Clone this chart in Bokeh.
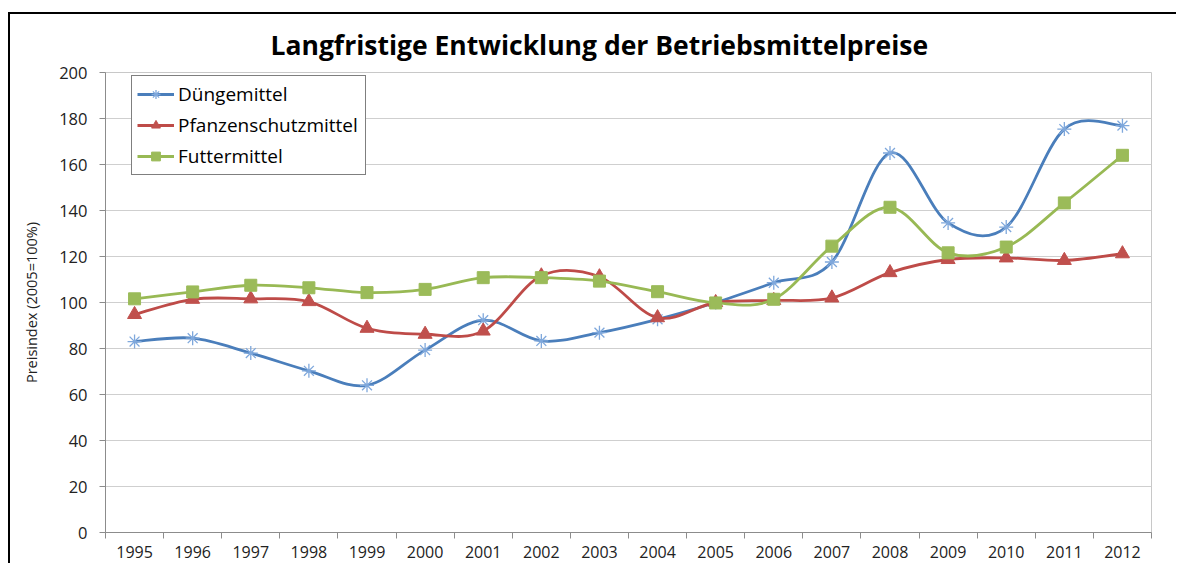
from bokeh.plotting import figure
from bokeh.layouts import column
from bokeh.models import (FixedTicker, Legend, LegendItem, ColumnDataSource)
from bokeh.embed import file_html
from bokeh.resources import INLINE

years = list(range(1995, 2013))
duenge = [83, 84.5, 78, 70.3, 64, 79.3, 92.3, 83.3, 86.9, 92.7, 100, 108.6, 117.6, 165, 134.6, 132.8, 175.4, 176.9]
pflanz = [94.8, 101.4, 101.6, 100.4, 88.8, 86.2, 87.6, 111.6, 111.2, 93.4, 100, 100.9, 102, 113, 118.7, 119.4, 118.3, 121.2]
futter = [101.6, 104.6, 107.5, 106.4, 104.3, 105.7, 110.8, 110.8, 109.3, 104.7, 99.8, 101.4, 124.5, 141.4, 121.6, 124.1, 143.3, 164]
series_names = ["Düngemittel", "Pfanzenschutzmittel", "Futtermittel"]
y_ticks = list(range(0, 201, 20))

FONT = "Open Sans"

# canvas placed at (10, 14) inside a wrapper with a 2px top/left black border
p = figure(width=1166, height=549, output_backend="svg", toolbar_location=None,
           x_range=(1994.5, 2012.5), y_range=(0, 200),
           min_border_left=95, min_border_right=25, min_border_top=57, min_border_bottom=31)

p.title.text = "Langfristige Entwicklung der Betriebsmittelpreise"
p.title.align = "left"
p.title.offset = 165
p.title.text_font = FONT
p.title.text_font_size = "26.5px"
p.title.text_font_style = "bold"
p.title.text_color = "#000000"
p.title.standoff = 20

p.outline_line_color = "#c8c8c8"
p.xgrid.grid_line_color = None
p.ygrid.grid_line_color = "#cfcfcf"
p.ygrid.grid_line_width = 1

xa = p.xaxis[0]
xa.ticker = FixedTicker(ticks=years, minor_ticks=[y - 0.5 for y in years] + [years[-1] + 0.5])
xa.major_tick_line_color = None
xa.minor_tick_line_color = "#8c8c8c"
xa.minor_tick_out = 6
xa.minor_tick_in = 0
xa.axis_line_color = "#8c8c8c"
xa.major_label_text_font = FONT
xa.major_label_text_font_size = "16px"
xa.major_label_text_color = "#222222"
xa.major_label_standoff = 7

ya = p.yaxis[0]
ya.ticker = FixedTicker(ticks=y_ticks)
ya.major_tick_line_color = "#8c8c8c"
ya.major_tick_out = 6
ya.major_tick_in = 0
ya.minor_tick_line_color = None
ya.axis_line_color = "#8c8c8c"
ya.major_label_text_font = FONT
ya.major_label_text_font_size = "16.5px"
ya.major_label_text_color = "#222222"
ya.major_label_standoff = 12
ya.axis_label = "Preisindex (2005=100%)"
ya.axis_label_text_font = FONT
ya.axis_label_text_font_size = "14.5px"
ya.axis_label_text_font_style = "normal"
ya.axis_label_text_color = "#222222"
ya.axis_label_standoff = 15


def bezier_source(xs, ys):
    n = len(xs)
    d = dict(x0=[], y0=[], x1=[], y1=[], cx0=[], cy0=[], cx1=[], cy1=[])
    for i in range(n - 1):
        im1 = max(i - 1, 0)
        ip2 = min(i + 2, n - 1)
        d["x0"].append(xs[i]); d["y0"].append(ys[i])
        d["x1"].append(xs[i + 1]); d["y1"].append(ys[i + 1])
        d["cx0"].append(xs[i] + (xs[i + 1] - xs[im1]) / 6)
        d["cy0"].append(ys[i] + (ys[i + 1] - ys[im1]) / 6)
        d["cx1"].append(xs[i + 1] - (xs[ip2] - xs[i]) / 6)
        d["cy1"].append(ys[i + 1] - (ys[ip2] - ys[i]) / 6)
    return ColumnDataSource(d)


styles = [
    (duenge, "#4a7ebb", "#7fa8dc", "asterisk", 14),
    (pflanz, "#be4b48", "#c0504d", "triangle", 14),
    (futter, "#98b954", "#9bbb59", "square", 12),
]

items = []
for name, (vals, lc, mc, marker, size) in zip(series_names, styles):
    p.bezier(x0="x0", y0="y0", x1="x1", y1="y1", cx0="cx0", cy0="cy0", cx1="cx1", cy1="cy1",
             source=bezier_source(years, vals), line_color=lc, line_width=2.8)
    lr = p.line(x=[years[0]], y=[float("nan")], line_color=lc, line_width=2.8)
    if marker == "asterisk":
        sr = p.scatter(years, vals, marker=marker, size=size, line_color=mc, line_width=1.3)
    else:
        sr = p.scatter(years, vals, marker=marker, size=size, fill_color=mc, line_color=mc)
    items.append(LegendItem(label=name, renderers=[lr, sr]))

legend = Legend(items=items, location=(26, 357))
legend.label_text_font = FONT
legend.label_text_font_size = "19px"
legend.label_text_color = "#000000"
legend.border_line_color = "#000000"
legend.border_line_width = 1
legend.glyph_width = 37
legend.glyph_height = 22
legend.label_standoff = 4
legend.label_height = 22
legend.label_width = 182
legend.spacing = 5
legend.padding = 5
legend.margin = 0
legend.background_fill_alpha = 1
p.add_layout(legend, "center")

root = column(p, margin=(12, 0, 0, 8),
              styles={"border-top": "2px solid #000000", "border-left": "2px solid #000000"})

open("out.html", "w").write(file_html(root, INLINE))
